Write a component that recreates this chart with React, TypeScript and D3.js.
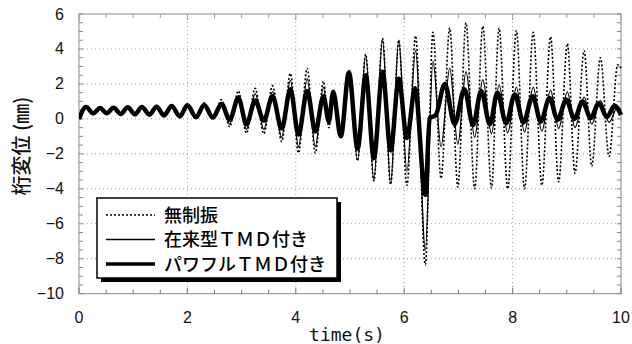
import React from 'react';
import * as d3 from 'd3';

const xTicks = [0, 2, 4, 6, 8, 10];
const yTicks = [6, 4, 2, 0, -2, -4, -6, -8, -10];
const legendLabels = ['無制振', '在来型ＴＭＤ付き', 'パワフルＴＭＤ付き'];

// [time (s), displacement (mm)] read at the turning points of each trace
const noControl: [number, number][] = [
  [0, 0], [0.13, 0.7], [0.26, 0.3], [0.39, 0.65], [0.51, 0.3], [0.64, 0.66], [0.77, 0.26], [0.9, 0.7],
  [1.03, 0.25], [1.16, 0.75], [1.3, 0.2], [1.43, 0.76], [1.57, 0.18], [1.71, 0.82], [1.86, 0.1], [2.0, 0.86],
  [2.16, 0.05], [2.31, 0.92], [2.47, 0.0], [2.63, 1.1], [2.78, -0.45], [2.94, 1.6], [3.09, -0.82], [3.25, 1.75],
  [3.41, -0.85], [3.57, 1.9], [3.74, -1.3], [3.9, 2.6], [4.05, -1.95], [4.21, 2.9], [4.36, -1.95], [4.51, 2.15],
  [4.61, -0.5], [4.69, 1.5], [4.83, -1.1], [4.98, 2.8], [5.14, -2.4], [5.29, 3.7], [5.44, -3.55], [5.6, 4.6],
  [5.75, -3.75], [5.9, 4.5], [6.05, -3.8], [6.21, 4.75], [6.39, -8.35], [6.53, 4.95], [6.68, -3.4], [6.84, 5.2],
  [6.99, -3.9], [7.14, 5.5], [7.3, -4.0], [7.45, 5.3], [7.61, -3.95], [7.75, 5.2], [7.91, -4.0], [8.07, 5.05],
  [8.22, -4.0], [8.38, 4.95], [8.54, -3.8], [8.7, 4.7], [8.85, -3.6], [9.01, 4.3], [9.15, -3.1], [9.32, 3.9],
  [9.46, -2.7], [9.62, 3.5], [9.78, -2.15], [9.94, 3.1], [10.0, 2.9],
];

const conventional: [number, number][] = [
  [0, 0], [0.13, 0.7], [0.26, 0.3], [0.39, 0.65], [0.51, 0.3], [0.64, 0.65], [0.77, 0.26], [0.9, 0.7],
  [1.03, 0.25], [1.16, 0.72], [1.3, 0.22], [1.43, 0.72], [1.57, 0.2], [1.71, 0.78], [1.86, 0.12], [2.0, 0.82],
  [2.16, 0.08], [2.31, 0.85], [2.47, 0.05], [2.63, 0.95], [2.78, -0.3], [2.94, 1.35], [3.09, -0.6], [3.25, 1.45],
  [3.41, -0.6], [3.57, 1.55], [3.74, -1.05], [3.9, 2.2], [4.05, -1.6], [4.21, 2.3], [4.36, -1.6], [4.51, 1.8],
  [4.61, -0.3], [4.69, 1.55], [4.83, -1.05], [4.98, 2.75], [5.14, -2.35], [5.29, 3.65], [5.44, -3.5], [5.6, 4.55],
  [5.75, -3.7], [5.9, 4.5], [6.05, -3.0], [6.21, 3.9], [6.39, -7.5], [6.53, 3.3], [6.68, -1.6], [6.84, 2.9],
  [6.99, -1.45], [7.14, 2.7], [7.3, -1.05], [7.45, 2.25], [7.61, -0.85], [7.75, 1.95], [7.91, -0.8], [8.07, 1.8],
  [8.22, -0.75], [8.38, 1.8], [8.54, -0.7], [8.7, 1.65], [8.85, -0.55], [9.01, 1.55], [9.15, -0.5], [9.32, 1.25],
  [9.46, -0.3], [9.62, 1.05], [9.78, -0.2], [9.94, 0.7], [10.0, 0.5],
];

const powerful: [number, number][] = [
  [0, 0], [0.13, 0.68], [0.26, 0.32], [0.39, 0.62], [0.51, 0.32], [0.64, 0.63], [0.77, 0.28], [0.9, 0.66],
  [1.03, 0.26], [1.16, 0.68], [1.3, 0.24], [1.43, 0.7], [1.57, 0.2], [1.71, 0.74], [1.86, 0.14], [2.0, 0.78],
  [2.16, 0.1], [2.31, 0.8], [2.47, 0.08], [2.63, 0.85], [2.78, -0.05], [2.94, 1.2], [3.09, -0.3], [3.25, 1.05],
  [3.41, -0.1], [3.57, 1.3], [3.74, -0.55], [3.9, 1.7], [4.05, -0.9], [4.21, 1.6], [4.36, -0.72], [4.51, 1.3],
  [4.61, -0.15], [4.69, 1.55], [4.83, -1.0], [4.98, 2.65], [5.14, -1.7], [5.29, 2.5], [5.44, -2.25], [5.6, 2.7],
  [5.75, -1.8], [5.9, 2.3], [6.05, -1.1], [6.2, 1.75], [6.39, -4.35], [6.47, 0.05], [6.58, 0.2], [6.75, 2.0],
  [6.93, -0.3], [7.11, 1.7], [7.27, -0.35], [7.42, 1.6], [7.58, -0.3], [7.72, 1.5], [7.88, -0.25], [8.04, 1.4],
  [8.2, -0.2], [8.37, 1.3], [8.52, -0.15], [8.68, 1.2], [8.83, -0.05], [8.99, 1.1], [9.14, 0.0], [9.29, 1.0],
  [9.44, 0.05], [9.59, 0.9], [9.74, 0.1], [9.88, 0.75], [10.0, 0.22],
];

const seriesStyles = [
  { data: noControl, width: 1.6, dash: '2 2' },
  { data: conventional, width: 1.3, dash: undefined },
  { data: powerful, width: 4.5, dash: undefined },
];

export default function App() {
  const W = 632;
  const H = 344;
  const x = d3.scaleLinear().domain([0, 10]).range([79, 621]);
  const y = d3.scaleLinear().domain([-10, 6]).range([293.7, 14]);
  const line = d3
    .line<[number, number]>()
    .x((d) => x(d[0]))
    .y((d) => y(d[1]))
    .curve(d3.curveMonotoneX);

  const minorX = d3.range(0, 10.001, 0.5);
  const minorY = d3.range(-10, 6.001, 0.5);
  const gridX = xTicks.filter((t) => t > 0 && t < 10);
  const gridY = yTicks.filter((t) => t > -10 && t < 6);
  const [x0, x1] = x.range();
  const [y0, y1] = y.range();
  const num = "'Liberation Sans', Arial, sans-serif";
  const jp = "'Noto Sans CJK JP', sans-serif";

  const lx = 97, ly = 198, lw = 240, lh = 80;

  return (
    <svg
      width={W}
      height={H}
      style={{ position: 'absolute', left: 0, top: 0, background: '#fff' }}
    >
      <rect x={0} y={0} width={W} height={H} fill="#fff" />
      <defs>
        <clipPath id="plotclip">
          <rect x={x0} y={y1 - 2} width={x1 - x0 + 2} height={y0 - y1 + 4} />
        </clipPath>
      </defs>
      {/* grid */}
      {gridX.map((t) => (
        <line key={'gx' + t} x1={x(t)} x2={x(t)} y1={y1} y2={y0} stroke="#9a9a9a" strokeWidth={1} strokeDasharray="1 3" />
      ))}
      {gridY.map((v) => (
        <line key={'gy' + v} x1={x0} x2={x1} y1={y(v)} y2={y(v)} stroke="#9a9a9a" strokeWidth={1} strokeDasharray="1 3" />
      ))}
      {/* frame */}
      <rect x={x0} y={y1} width={x1 - x0} height={y0 - y1} fill="none" stroke="#8a8a8a" strokeWidth={1} />
      {/* minor ticks */}
      {minorX.map((t) => {
        const len = Math.abs(t % 2) < 1e-6 ? 6 : 4;
        return (
          <g key={'tx' + t}>
            <line x1={x(t)} x2={x(t)} y1={y0} y2={y0 - len} stroke="#777" strokeWidth={1} />
            <line x1={x(t)} x2={x(t)} y1={y1} y2={y1 + len} stroke="#999" strokeWidth={1} />
          </g>
        );
      })}
      {minorY.map((v) => (
        <g key={'ty' + v}>
          <line x1={x0} x2={x0 + 4} y1={y(v)} y2={y(v)} stroke="#888" strokeWidth={1} />
          <line x1={x1} x2={x1 - 4} y1={y(v)} y2={y(v)} stroke="#888" strokeWidth={1} />
        </g>
      ))}
      {/* tick labels */}
      {xTicks.map((t) => (
        <text key={'lx' + t} x={x(t)} y={323} textAnchor="middle" fontFamily={num} fontSize={16} fill="#111">
          {t}
        </text>
      ))}
      {yTicks.map((v) => (
        <text key={'ly' + v} x={64} y={y(v) + 5.5} textAnchor="end" fontFamily={num} fontSize={16} fill="#111">
          {v < 0 ? '\u2212' + Math.abs(v) : v}
        </text>
      ))}
      {/* axis titles */}
      <text x={347} y={341} textAnchor="middle" fontFamily="'DejaVu Sans Mono', monospace" fontSize={18} fill="#111">
        time(s)
      </text>
      <text
        transform="translate(29,146) rotate(-90)"
        textAnchor="middle"
        fontFamily={jp}
        fontSize={20}
        fontWeight={500}
        fill="#111"
      >
        桁変位 (㎜)
      </text>
      {/* series */}
      <g clipPath="url(#plotclip)">
        {seriesStyles.map((s, i) => (
          <path
            key={'s' + i}
            d={line(s.data) || ''}
            fill="none"
            stroke="#000"
            strokeWidth={s.width}
            strokeDasharray={s.dash}
            strokeLinejoin="round"
          />
        ))}
      </g>
      {/* legend */}
      <rect x={lx + 4} y={ly + 4} width={lw} height={lh} fill="#000" />
      <rect x={lx} y={ly} width={lw} height={lh} fill="#fff" stroke="#000" strokeWidth={1.5} />
      {legendLabels.map((lab, i) => {
        const cy = 215 + i * 24.5;
        const s = seriesStyles[i];
        return (
          <g key={'lg' + i}>
            <line x1={106} x2={155} y1={cy} y2={cy} stroke="#000" strokeWidth={s.width > 3 ? 3.5 : s.width} strokeDasharray={s.dash} />
            <text x={164} y={cy + 6.5} fontFamily={jp} fontSize={18} fontWeight={500} fill="#000">
              {lab}
            </text>
          </g>
        );
      })}
    </svg>
  );
}
